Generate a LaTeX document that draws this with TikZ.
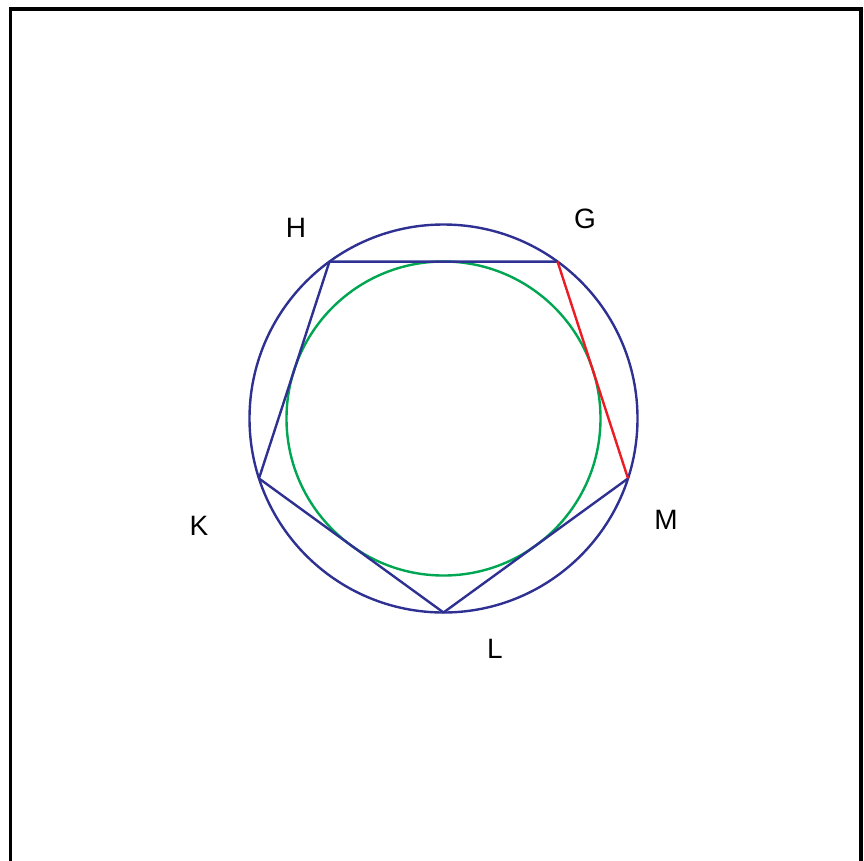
\documentclass[tikz,border=0pt]{standalone}
\usepackage{fontspec}
\setmainfont{Liberation Sans}
\usetikzlibrary{calc}
\begin{document}
\begin{tikzpicture}[x=1pt,y=-1pt,
  navy/.style={draw={rgb,255:red,46;green,49;blue,146},line width=2.4pt},
  grn/.style={draw={rgb,255:red,0;green,166;blue,81},line width=2.4pt},
  redl/.style={draw={rgb,255:red,237;green,28;blue,36},line width=2.4pt},
  lbl/.style={font=\fontsize{28}{28}\selectfont,inner sep=0pt}]
\useasboundingbox (0,0) rectangle (864,860);
\draw[line width=3.2pt] (10.5,875) -- (10.5,9) -- (861,9) -- (861,875);
\coordinate (O) at (443.5,418.5);
\draw[navy] (O) circle (194);
\draw[grn] (O) circle (157);
\coordinate (H) at ($(O)+(-126:194)$);
\coordinate (G) at ($(O)+(-54:194)$);
\coordinate (M) at ($(O)+(18:194)$);
\coordinate (L) at ($(O)+(90:194)$);
\coordinate (K) at ($(O)+(162:194)$);
\draw[navy,line join=round] (G) -- (H) -- (K) -- (L) -- (M);
\draw[redl] (M) -- (G);
\node[lbl] (tH) at (296,228) {H};
\node[lbl] (tG) at (585,219) {G};
\node[lbl] (tM) at (666,520) {M};
\node[lbl] (tL) at (495,649) {L};
\node[lbl] (tK) at (199,526) {K};
\end{tikzpicture}
\end{document}
